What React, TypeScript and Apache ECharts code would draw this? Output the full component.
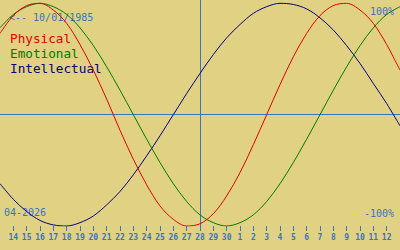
import React, { useEffect, useRef } from "react";
import * as echarts from "echarts";

const categories = [
  "04-13", "04-14", "04-15", "04-16", "04-17", "04-18", "04-19", "04-20", "04-21", "04-22",
  "04-23", "04-24", "04-25", "04-26", "04-27", "04-28", "04-29", "04-30", "05-01", "05-02",
  "05-03", "05-04", "05-05", "05-06", "05-07", "05-08", "05-09", "05-10", "05-11", "05-12", "05-13",
];
const physical = [
  0.73, 0.89, 0.98, 1.0, 0.94, 0.82, 0.63, 0.4, 0.14, -0.14,
  -0.4, -0.63, -0.82, -0.94, -1.0, -0.98, -0.89, -0.73, -0.52, -0.27,
  0.0, 0.27, 0.52, 0.73, 0.89, 0.98, 1.0, 0.94, 0.82, 0.63, 0.4,
];
const emotional = [
  0.78, 0.9, 0.97, 1.0, 0.97, 0.9, 0.78, 0.62, 0.43, 0.22,
  0.0, -0.22, -0.43, -0.62, -0.78, -0.9, -0.97, -1.0, -0.97, -0.9,
  -0.78, -0.62, -0.43, -0.22, 0.0, 0.22, 0.43, 0.62, 0.78, 0.9, 0.97,
];
const intellectual = [
  -0.62, -0.76, -0.87, -0.95, -0.99, -1.0, -0.97, -0.91, -0.81, -0.69,
  -0.54, -0.37, -0.19, 0.0, 0.19, 0.37, 0.54, 0.69, 0.81, 0.91,
  0.97, 1.0, 0.99, 0.95, 0.87, 0.76, 0.62, 0.46, 0.28, 0.1, -0.1,
];
const todayCategory = "04-28";
const birthLabel = "<-- 10/01/1985";
const monthLabel = "04-2026";
const legendNames = ["Physical", "Emotional", "Intellectual"];
const topLabel = "100%";
const bottomLabel = "-100%";

const BG = "#e0d282";
const BLUE = "#3b72c4";
const RED = "#e00000";
const GREEN = "#007a00";
const NAVY = "#00007f";
const MONO = "'DejaVu Sans Mono', 'Liberation Mono', monospace";

export default function App() {
  const ref = useRef<HTMLDivElement>(null);
  useEffect(() => {
    document.body.style.margin = "0";
    if (!ref.current) return;
    const chart = echarts.init(ref.current, undefined, { renderer: "svg" });
    const inner = (i: number) => i > 0 && i < categories.length - 1;
    const lineSeries = (name: string, data: number[], color: string, extra: any = {}) => ({
      name,
      type: "line",
      data,
      smooth: 0.33,
      symbol: "none",
      lineStyle: { color, width: 1 },
      itemStyle: { color },
      z: 3,
      ...extra,
    });
    chart.setOption({
      animation: false,
      backgroundColor: BG,
      grid: { left: 0, right: 0, top: 0, bottom: 24 },
      xAxis: {
        type: "category",
        data: categories,
        boundaryGap: false,
        axisLine: { show: true, onZero: false, lineStyle: { color: BLUE, opacity: 0 } },
        axisTick: {
          show: true,
          length: 5,
          interval: (i: number) => inner(i),
          lineStyle: { color: BLUE, width: 1, opacity: 1 },
        },
        axisLabel: {
          interval: (i: number) => inner(i),
          margin: 7,
          color: BLUE,
          fontSize: 8,
          fontWeight: "bold",
          fontFamily: MONO,
          formatter: (v: string) => String(Number(v.split("-")[1])),
        },
        splitLine: { show: false },
      },
      yAxis: {
        type: "value",
        min: -1,
        max: 1.03,
        show: false,
        splitLine: { show: false },
      },
      graphic: [
        { type: "text", x: 9, y: 17.5, style: { text: birthLabel, fill: BLUE, font: `10px ${MONO}`, verticalAlign: "middle" } },
        { type: "text", x: 10, y: 38, style: { text: legendNames[0], fill: RED, font: `12.7px ${MONO}`, verticalAlign: "middle" } },
        { type: "text", x: 10, y: 53, style: { text: legendNames[1], fill: GREEN, font: `12.7px ${MONO}`, verticalAlign: "middle" } },
        { type: "text", x: 10, y: 68, style: { text: legendNames[2], fill: NAVY, font: `12.7px ${MONO}`, verticalAlign: "middle" } },
        { type: "text", x: 394, y: 11.5, style: { text: topLabel, fill: BLUE, font: `10px ${MONO}`, align: "right", verticalAlign: "middle" } },
        { type: "text", x: 394, y: 213, style: { text: bottomLabel, fill: BLUE, font: `10px ${MONO}`, align: "right", verticalAlign: "middle" } },
        { type: "text", x: 4, y: 212.5, style: { text: monthLabel, fill: BLUE, font: `10px ${MONO}`, verticalAlign: "middle" } },
      ],
      series: [
        lineSeries(legendNames[2], intellectual, NAVY, {
          markLine: {
            silent: true,
            symbol: "none",
            label: { show: false },
            lineStyle: { color: BLUE, width: 1, type: "solid" },
            data: [{ xAxis: todayCategory }, { yAxis: 0 }],
            z: 1,
          },
        }),
        lineSeries(legendNames[1], emotional, GREEN),
        lineSeries(legendNames[0], physical, RED),
      ],
    });
    return () => chart.dispose();
  }, []);
  return <div ref={ref} style={{ width: 400, height: 250 }} />;
}
